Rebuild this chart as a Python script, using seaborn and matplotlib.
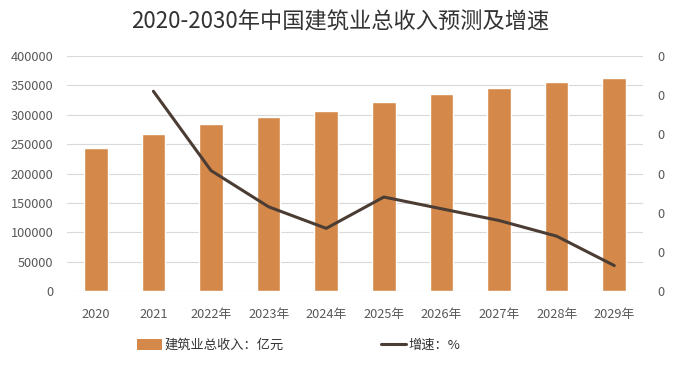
import numpy as np
import matplotlib.pyplot as plt
import seaborn as sns
from matplotlib.patches import Patch
from matplotlib.lines import Line2D
from matplotlib.ticker import FuncFormatter

# data
years = ['2020', '2021', '2022年', '2023年', '2024年', '2025年', '2026年', '2027年', '2028年', '2029年']
revenue = [243000, 268000, 285000, 297000, 306000, 321000, 335000, 346000, 356000, 362000]
growth_years = years[1:]
growth = [0.102, 0.0615, 0.043, 0.032, 0.048, 0.042, 0.036, 0.028, 0.013]

bar_color = '#D4894A'
line_color = '#4B3D33'
text_color = '#595959'

sns.set_style('white')
plt.rcParams['font.family'] = ['Noto Sans CJK SC', 'DejaVu Sans']

fig = plt.figure(figsize=(6.85, 3.68), dpi=100)
ax = fig.add_axes([0.0978, 0.2092, 0.841, 0.6386])

sns.barplot(x=years, y=revenue, color=bar_color, width=0.41, saturation=1, ax=ax, zorder=2)
ax.set_ylim(0, 400000)
ax.set_yticks(np.arange(0, 400001, 50000))
ax.set_xlim(-0.5, len(years) - 0.5)
ax.grid(axis='y', color='#D9D9D9', linewidth=0.8, zorder=0)
ax.set_axisbelow(True)
ax.tick_params(axis='both', length=0, labelsize=9.2, colors=text_color)
ax.tick_params(axis='y', pad=10)
ax.tick_params(axis='x', pad=12)
ax.set_xlabel('')
ax.set_ylabel('')
for s in ax.spines.values():
    s.set_visible(False)

ax2 = ax.twinx()
pos = [years.index(y) for y in growth_years]
sns.lineplot(x=pos, y=growth, color=line_color, linewidth=2.2, ax=ax2)
ax2.set_ylim(0, 0.12)
ax2.set_yticks(np.arange(0, 0.1201, 0.02))
ax2.yaxis.set_major_formatter(FuncFormatter(lambda v, p: '0'))
ax2.tick_params(axis='y', length=0, labelsize=9.2, colors=text_color, pad=10)
ax2.set_ylabel('')
for s in ax2.spines.values():
    s.set_visible(False)

fig.text(0.497, 0.94, '2020-2030年中国建筑业总收入预测及增速', ha='center', va='center',
         fontsize=16, color='#333333')

handles = [Patch(facecolor=bar_color, edgecolor='none', label='建筑业总收入：亿元'),
           Line2D([0], [0], color=line_color, linewidth=2.2, label='增速：%')]
fig.legend(handles=handles, loc='center', bbox_to_anchor=(0.436, 0.062), ncol=2,
           frameon=False, fontsize=9.5, handlelength=1.9, handleheight=0.9,
           handletextpad=0.2, columnspacing=7.4, labelcolor='#333333')

fig.savefig('out.png', dpi=100)
